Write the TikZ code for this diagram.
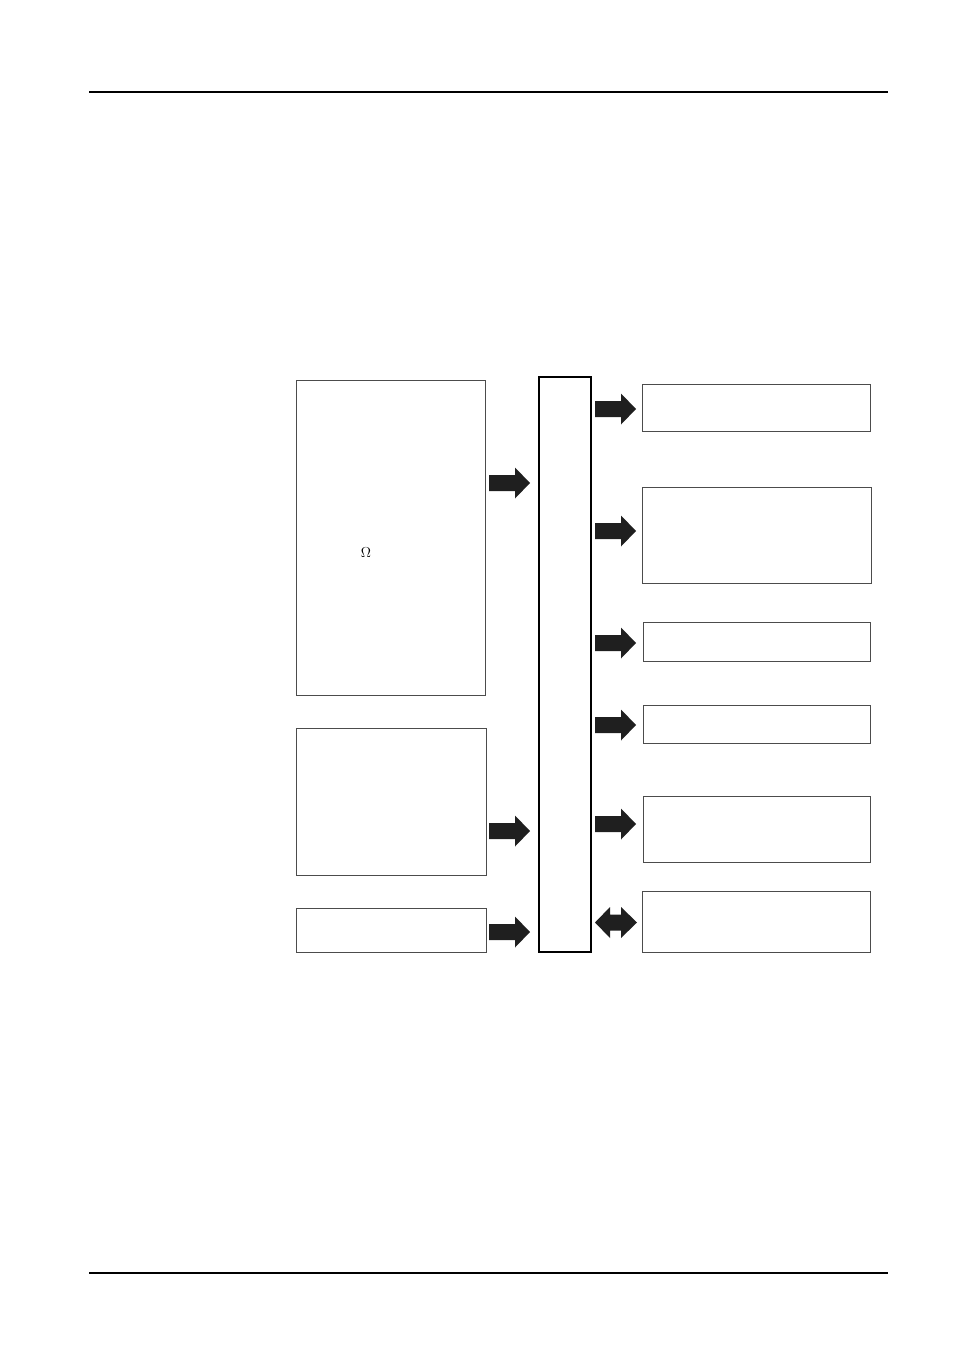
\documentclass[tikz,border=0pt]{standalone}
\usetikzlibrary{calc}
\tikzset{
  box/.style={draw=black!70, line width=1pt, fill=white},
  bus/.style={draw=black, line width=2.4pt},
  rule/.style={draw=black, line width=1.3pt},
  blk/.style={fill=black!88},
}
\newcommand{\rarrow}[1]{%
  \fill[blk] ($(#1)+(0,-8)$) -- ++(26,0) -- ++(0,-7.5) -- ($(#1)+(41,0)$) -- ($(#1)+(26,15.5)$) -- ++(0,-7.5) -- ++(-26,0) -- cycle;}
\begin{document}
\begin{tikzpicture}[x=1pt,y=-1pt]
\useasboundingbox (0,0) rectangle (954,1351);
\draw[rule] (89,92) -- (888,92);
\draw[rule] (89,1273) -- (888,1273);
% left boxes
\draw[box] (296,380) rectangle (485,695);
\node (omega) at (366,553) {\fontsize{14}{16}\selectfont$\Omega$};
\draw[box] (296,728) rectangle (486,875);
\draw[box] (296,908) rectangle (486,952);
% bus
\draw[bus] (539,377) rectangle (591,952);
% right boxes
\draw[box] (642,384) rectangle (870,431);
\draw[box] (642,487) rectangle (871,583);
\draw[box] (643,622) rectangle (870,661);
\draw[box] (643,705) rectangle (870,743);
\draw[box] (643,796) rectangle (870,862);
\draw[box] (642,891) rectangle (870,952);
% arrows
\coordinate (la1) at (489,483);
\coordinate (la2) at (489,831);
\coordinate (la3) at (489,932);
\coordinate (ra1) at (595,409);
\coordinate (ra2) at (595,531);
\coordinate (ra3) at (595,643);
\coordinate (ra4) at (595,725);
\coordinate (ra5) at (595,824);
\rarrow{la1}\rarrow{la2}\rarrow{la3}
\rarrow{ra1}\rarrow{ra2}\rarrow{ra3}\rarrow{ra4}\rarrow{ra5}
\coordinate (da) at (595,922.5);
\fill[blk] (da) -- ++(15,-15.5) -- ++(0,7.5) -- ++(11,0) -- ++(0,-7.5) -- ++(16,15.5) -- ++(-16,15.5) -- ++(0,-7.5) -- ++(-11,0) -- ++(0,7.5) -- cycle;
\end{tikzpicture}
\end{document}
